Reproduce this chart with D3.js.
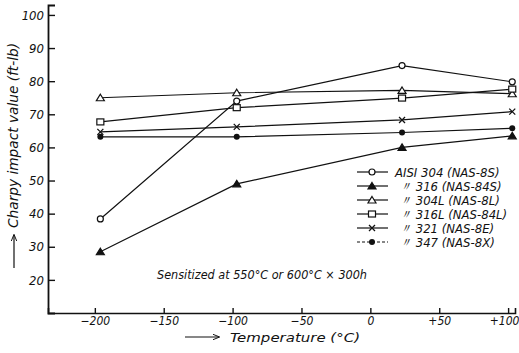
<!DOCTYPE html>
<html>
<head>
<meta charset="utf-8">
<script src="https://cdn.jsdelivr.net/npm/d3@7"></script>
<style>
  body { margin: 0; background: #fff; }
  text { font-family: "Liberation Sans Narrow", "DejaVu Sans Condensed", sans-serif; font-style: italic; fill: #111; }
</style>
</head>
<body>
<div id="chart"></div>
<script>
// temperatures (°C) of the test points
const temps = [-196, -97, 23, 103];

// Charpy impact values (ft-lb)
const s304  = [38.4, 74.0, 84.7, 79.8];
const s316  = [28.5, 49.0, 60.0, 63.5];
const s304L = [75.0, 76.5, 77.2, 76.2];
const s316L = [67.7, 72.0, 74.9, 77.6];
const s321  = [64.7, 66.2, 68.3, 70.8];
const s347  = [63.2, 63.2, 64.5, 65.8];

const seriesNames = ["AISI 304 (NAS-8S)", "〃 316 (NAS-84S)", "〃 304L (NAS-8L)", "〃 316L (NAS-84L)", "〃 321 (NAS-8E)", "〃 347 (NAS-8X)"];
const seriesMarks = ["circle", "tri-filled", "tri", "square", "cross", "dot"];
const seriesVals = [s304, s316, s304L, s316L, s321, s347];

const xTicks = [-200, -150, -100, -50, 0, 50, 100];
const xTickLabels = ["−200", "−150", "−100", "−50", "0", "+50", "+100"];
const yTicks = [20, 30, 40, 50, 60, 70, 80, 90, 100];

const width = 519, height = 353;

const svg = d3.select("#chart").append("svg")
  .attr("width", width)
  .attr("height", height);

svg.append("defs").append("marker")
  .attr("id", "head")
  .attr("viewBox", "0 0 10 10").attr("refX", 9).attr("refY", 5)
  .attr("markerWidth", 7).attr("markerHeight", 7)
  .attr("markerUnits", "userSpaceOnUse")
  .attr("orient", "auto")
  .append("path").attr("d", "M0,1L10,5L0,9").attr("fill", "none").attr("stroke", "#111").attr("stroke-width", 1.4);

const x = d3.scaleLinear().domain([-234, 105]).range([48, 515]);
const y = d3.scaleLinear().domain([10, 103]).range([313, 5]);

// axes
const xAxis = d3.axisBottom(x).tickValues(xTicks).tickSize(-5).tickFormat((d, i) => xTickLabels[i]).tickPadding(3);
const gx = svg.append("g").attr("transform", `translate(0,${y(10)})`).call(xAxis);
gx.select(".domain").attr("stroke", "#111").attr("stroke-width", 1.6);
gx.selectAll(".tick line").attr("stroke", "#111").attr("stroke-width", 1.4);
gx.selectAll(".tick text").style("font-size", "12px").attr("fill", "#111");
gx.selectAll(".tick text").filter((d, i) => i === xTicks.length - 1).attr("dx", "-4");

const yAxis = d3.axisLeft(y).tickValues(yTicks).tickSize(-7).tickPadding(4);
const gy = svg.append("g").attr("transform", `translate(${x(-234)},0)`).call(yAxis);
gy.select(".domain").attr("stroke", "#111").attr("stroke-width", 1.8);
gy.selectAll(".tick line").attr("stroke", "#111").attr("stroke-width", 1.4);
gy.selectAll(".tick text").style("font-size", "13px").attr("fill", "#111");

// axis titles, with hand-drawn style arrows
svg.append("line")
  .attr("x1", 185).attr("x2", 219).attr("y1", 337).attr("y2", 337)
  .attr("stroke", "#111").attr("stroke-width", 1.2).attr("marker-end", "url(#head)");
svg.append("text")
  .attr("x", 230).attr("y", 342)
  .attr("textLength", 130).attr("lengthAdjust", "spacingAndGlyphs")
  .style("font-size", "12px")
  .text("Temperature   (°C)");

svg.append("line")
  .attr("x1", 14).attr("x2", 14).attr("y1", 268).attr("y2", 235)
  .attr("stroke", "#111").attr("stroke-width", 1.2).attr("marker-end", "url(#head)");
svg.append("text")
  .attr("transform", "translate(18,228) rotate(-90)")
  .attr("textLength", 185).attr("lengthAdjust", "spacingAndGlyphs")
  .style("font-size", "14px")
  .text("Charpy impact value (ft-lb)");

// lines
const line = d3.line().x((d, i) => x(temps[i])).y(d => y(d));

const plot = svg.append("g");
seriesVals.forEach((vals, k) => {
  plot.append("path")
    .datum(vals)
    .attr("d", line)
    .attr("fill", "none")
    .attr("stroke", "#111")
    .attr("stroke-width", 1.2);
});

function drawMark(g, kind, cx, cy) {
  if (kind === "circle") {
    g.append("circle").attr("cx", cx).attr("cy", cy).attr("r", 3)
      .attr("fill", "#fff").attr("stroke", "#111").attr("stroke-width", 1.2);
  } else if (kind === "dot") {
    g.append("circle").attr("cx", cx).attr("cy", cy).attr("r", 3)
      .attr("fill", "#111");
  } else if (kind === "tri" || kind === "tri-filled") {
    g.append("path")
      .attr("d", `M${cx},${cy - 3.5}L${cx + 4},${cy + 3}L${cx - 4},${cy + 3}Z`)
      .attr("fill", kind === "tri" ? "#fff" : "#111")
      .attr("stroke", "#111").attr("stroke-width", 1.2);
  } else if (kind === "square") {
    g.append("rect").attr("x", cx - 3.5).attr("y", cy - 3).attr("width", 7).attr("height", 6)
      .attr("fill", "#fff").attr("stroke", "#111").attr("stroke-width", 1.2);
  } else if (kind === "cross") {
    g.append("path")
      .attr("d", `M${cx - 3},${cy - 3}L${cx + 3},${cy + 3}M${cx + 3},${cy - 3}L${cx - 3},${cy + 3}`)
      .attr("stroke", "#111").attr("stroke-width", 1.3);
  }
}

seriesVals.forEach((vals, k) => {
  vals.forEach((v, i) => drawMark(plot, seriesMarks[k], x(temps[i]), y(v)));
});

// legend
const legend = svg.append("g");
seriesNames.forEach((name, k) => {
  const ly = 172 + k * 14;
  legend.append("line")
    .attr("x1", 357).attr("x2", 388).attr("y1", ly).attr("y2", ly)
    .attr("stroke", "#111").attr("stroke-width", 1.2)
    .attr("stroke-dasharray", k === 5 ? "3,2" : null);
  drawMark(legend, seriesMarks[k], 372, ly);
  legend.append("text")
    .attr("x", k === 0 ? 395 : 399).attr("y", ly + 5)
    .style("font-size", "13px")
    .text(name);
});

// annotation
svg.append("text")
  .attr("x", 157).attr("y", 279)
  .attr("textLength", 210).attr("lengthAdjust", "spacingAndGlyphs")
  .style("font-size", "13px")
  .text("Sensitized at 550°C or 600°C × 300h");
</script>
</body>
</html>
